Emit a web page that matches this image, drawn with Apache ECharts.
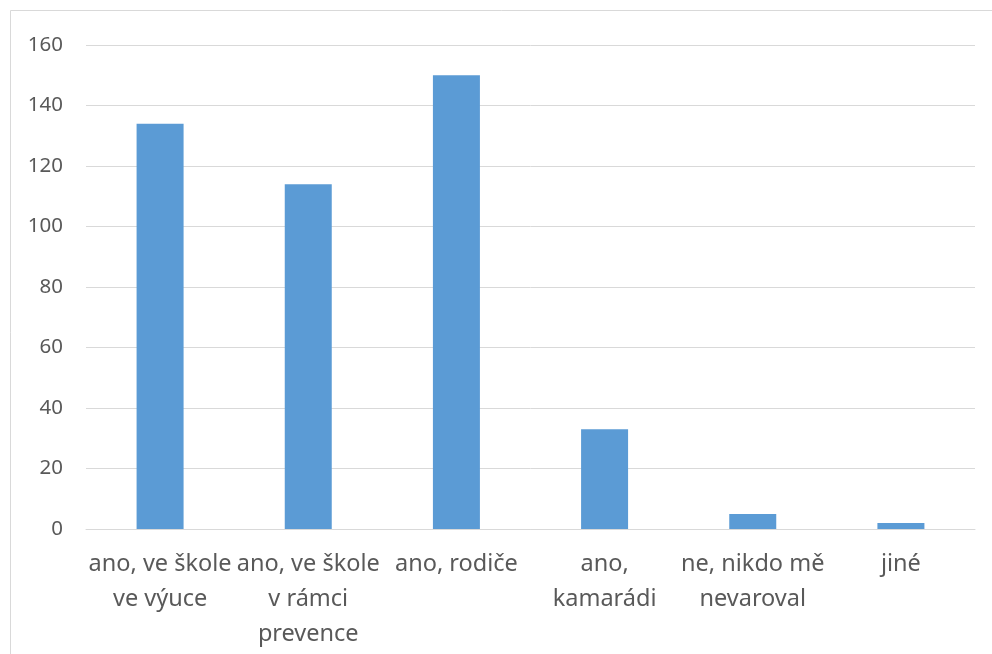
<!DOCTYPE html>
<html><head><meta charset="utf-8">
<script src="https://cdn.jsdelivr.net/npm/echarts@6/dist/echarts.min.js"></script>
<style>html,body{margin:0;padding:0;background:#fff}#c{width:992px;height:654px}</style>
</head><body><div id="c"></div>
<script>
var categories = ["ano, ve škole\nve výuce", "ano, ve škole\nv rámci\nprevence", "ano, rodiče", "ano,\nkamarádi", "ne, nikdo mě\nnevaroval", "jiné"];
var values = [134, 114, 150, 33, 5, 2];
var yTicks = {min: 0, max: 160, interval: 20};

var chart = echarts.init(document.getElementById('c'), null, {renderer: 'canvas'});
chart.setOption({
  animation: false,
  backgroundColor: '#fff',
  graphic: [{type: 'rect', shape: {x: 10.5, y: 10.5, width: 1000, height: 700}, style: {fill: 'none', stroke: '#d9d9d9', lineWidth: 1}}],
  grid: {left: 86, right: 17, top: 45, bottom: 125},
  xAxis: {
    type: 'category', data: categories,
    axisLine: {lineStyle: {color: '#d9d9d9', width: 1}},
    axisTick: {show: false},
    axisLabel: {interval: 0, color: '#595959', fontFamily: 'Noto Sans', fontSize: 23.5, lineHeight: 35, margin: 18}
  },
  yAxis: {
    type: 'value', min: yTicks.min, max: yTicks.max, interval: yTicks.interval,
    axisLine: {show: false}, axisTick: {show: false},
    splitLine: {lineStyle: {color: '#d9d9d9', width: 1}},
    axisLabel: {color: '#595959', fontFamily: 'Noto Sans', fontSize: 20.5, margin: 23}
  },
  series: [{type: 'bar', data: values, barWidth: 47, itemStyle: {color: '#5b9bd5'}}]
});
</script></body></html>
